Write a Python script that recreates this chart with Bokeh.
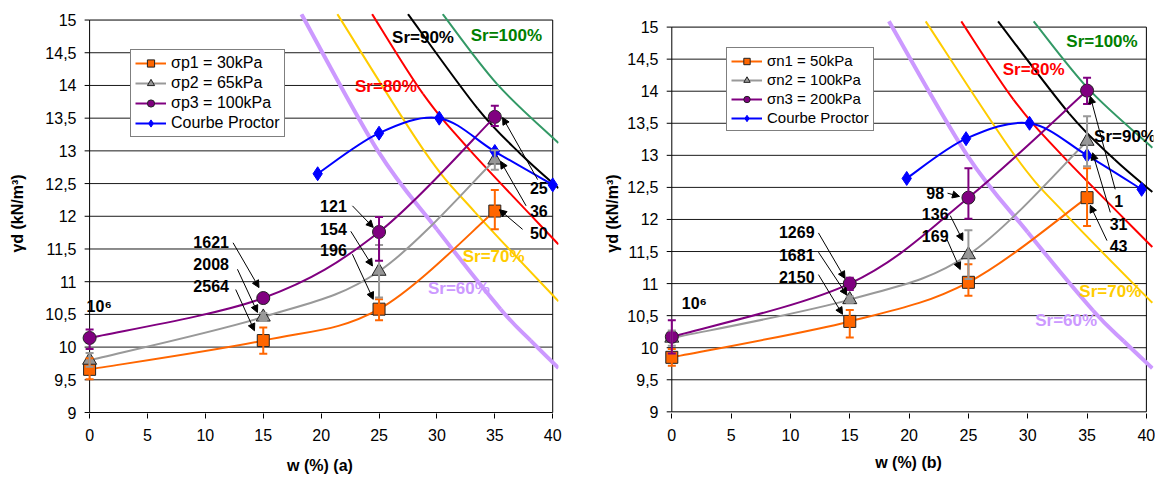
from bokeh.plotting import figure
from bokeh.models import (ColumnDataSource, FixedTicker, Whisker, TeeHead, Arrow, NormalHead,
                          Legend, LegendItem, LabelSet, Range1d, CustomJSTickFormatter)
from bokeh.layouts import row
from bokeh.embed import file_html
from bokeh.resources import INLINE
from bokeh.core.properties import value, field

FONT = "Liberation Sans"

x_ticks = [0, 5, 10, 15, 20, 25, 30, 35, 40]
y_ticks = [9, 9.5, 10, 10.5, 11, 11.5, 12, 12.5, 13, 13.5, 14, 14.5, 15]

# ---------------- chart (a) ----------------
w_pts = [0, 15, 25, 35]
sp1 = [9.66, 10.10, 10.58, 12.08]
sp1_lo = [9.51, 9.90, 10.41, 11.80]
sp1_hi = [9.83, 10.30, 10.73, 12.40]
sp2 = [9.80, 10.46, 11.16, 12.86]
sp2_lo = [9.70, 10.40, 10.76, 12.71]
sp2_hi = [9.91, 10.52, 11.56, 13.01]
sp3 = [10.14, 10.75, 11.76, 13.52]
sp3_lo = [9.97, 10.71, 11.32, 13.38]
sp3_hi = [10.27, 10.79, 11.99, 13.69]
proctor_w_a = [19.7, 25.0, 30.2, 35.0, 40.0]
proctor_a = [12.65, 13.27, 13.50, 12.99, 12.48]

# ---------------- chart (b) ----------------
sn1 = [9.85, 10.41, 11.02, 12.34]
sn1_lo = [9.72, 10.16, 10.81, 11.90]
sn1_hi = [9.98, 10.59, 11.30, 12.80]
sn2 = [10.15, 10.75, 11.45, 13.22]
sn2_lo = [10.03, 10.70, 11.07, 12.83]
sn2_hi = [10.27, 10.80, 11.83, 13.61]
sn3 = [10.17, 11.00, 12.34, 14.01]
sn3_lo = [9.91, 10.90, 12.01, 13.80]
sn3_hi = [10.43, 11.09, 12.80, 14.21]
proctor_w_b = [19.8, 24.8, 30.15, 35.0, 39.6]
proctor_b = [12.64, 13.26, 13.50, 13.00, 12.47]

# ---------------- saturation curves ----------------
sr60_w = [18.3, 24.9, 30.0, 35.5, 38.1, 40.5]
sr60_g = [15.09, 13.00, 11.80, 10.58, 10.10, 9.68]
sr70_w = [21.4, 28.9, 33.3, 40.5]
sr70_g = [15.09, 13.00, 12.06, 10.70]
sr80_w = [24.4, 28.8, 32.9, 40.5]
sr80_g = [15.09, 13.87, 13.00, 11.57]
sr90_w = [27.5, 33.5, 37.3, 40.5]
sr90_g = [15.09, 13.65, 12.94, 12.43]
sr100_w = [30.5, 35.2, 40.5]
sr100_g = [15.09, 14.02, 13.12]

SR_CURVES = [
    (sr60_w, sr60_g, "#CC99FF", 4),
    (sr70_w, sr70_g, "#FFCC00", 2),
    (sr80_w, sr80_g, "#FF0000", 2),
    (sr90_w, sr90_g, "#000000", 2),
    (sr100_w, sr100_g, "#339966", 2),
]


def smooth(xs, ys):
    """Bezier control points for an Excel-like smoothed line through the data."""
    n = len(xs)
    px = [xs[0]] + list(xs) + [xs[-1]]
    py = [ys[0]] + list(ys) + [ys[-1]]
    d = {k: [] for k in ("x0", "y0", "x1", "y1", "cx0", "cy0", "cx1", "cy1")}
    for i in range(n - 1):
        d["x0"].append(px[i + 1]); d["y0"].append(py[i + 1])
        d["x1"].append(px[i + 2]); d["y1"].append(py[i + 2])
        d["cx0"].append(px[i + 1] + (px[i + 2] - px[i]) / 6.0)
        d["cy0"].append(py[i + 1] + (py[i + 2] - py[i]) / 6.0)
        d["cx1"].append(px[i + 2] - (px[i + 3] - px[i + 1]) / 6.0)
        d["cy1"].append(py[i + 2] - (py[i + 3] - py[i + 1]) / 6.0)
    return ColumnDataSource(d)


def curve(p, xs, ys, color, width):
    return p.bezier(x0="x0", y0="y0", x1="x1", y1="y1", cx0="cx0", cy0="cy0",
                    cx1="cx1", cy1="cy1", source=smooth(xs, ys),
                    line_color=color, line_width=width)


def build(xlabel, series, pw, pg, texts, small_text, arrows, geom, leg):
    p = figure(width=geom["w"], height=geom["h"], title=None,
               x_range=Range1d(-0.7, geom["xend"]), y_range=Range1d(geom["ys"], geom["ye"]),
               output_backend="svg", toolbar_location=None,
               min_border_left=geom["l"], min_border_right=geom["r"],
               min_border_top=geom["t"], min_border_bottom=geom["b"])
    p.outline_line_color = None
    p.grid.visible = False
    p.background_fill_color = "white"
    p.border_fill_color = "white"

    xa = p.xaxis[0]
    xa.ticker = FixedTicker(ticks=x_ticks)
    xa.axis_line_color = None
    xa.major_tick_out = 5
    xa.major_tick_in = 0
    xa.minor_tick_out = 0
    xa.minor_tick_in = 0
    xa.major_tick_line_color = "black"
    xa.major_label_standoff = geom["xls"]
    xa.major_label_text_font = FONT
    xa.major_label_text_font_size = "16px"
    xa.major_label_text_color = "black"
    xa.axis_label = xlabel
    xa.axis_label_text_font = FONT
    xa.axis_label_text_font_style = "bold"
    xa.axis_label_text_font_size = "16px"
    xa.axis_label_text_color = "black"
    xa.axis_label_standoff = geom["xts"]

    ya = p.yaxis[0]
    ya.ticker = FixedTicker(ticks=y_ticks)
    ya.formatter = CustomJSTickFormatter(code="return String(tick).replace('.', ',');")
    ya.axis_line_color = None
    ya.major_tick_out = 0
    ya.major_tick_in = 0
    ya.minor_tick_out = 0
    ya.minor_tick_in = 0
    ya.major_tick_line_color = None
    ya.minor_tick_line_color = None
    ya.major_label_standoff = 5
    ya.major_label_text_font = FONT
    ya.major_label_text_font_size = "16px"
    ya.major_label_text_color = "black"
    ya.axis_label = "γd (kN/m³)"
    ya.axis_label_text_font = FONT
    ya.axis_label_text_font_style = "bold"
    ya.axis_label_text_font_size = "16px"
    ya.axis_label_text_color = "black"
    ya.axis_label_standoff = geom["yts"]

    # grid lines, plot-area box and y ticks
    x0, x1 = x_ticks[0], x_ticks[-1]
    gy = y_ticks[1:-1]
    p.segment(x0=[x0] * len(gy), y0=gy, x1=[x1] * len(gy), y1=gy,
              line_color="#1a1a1a", line_width=1)
    y0, y1 = y_ticks[0], y_ticks[-1]
    p.segment(x0=[x0, x0, x0, x1], y0=[y0, y1, y0, y0], x1=[x1, x1, x0, x1], y1=[y0, y1, y1, y1],
              line_color="black", line_width=1)
    p.segment(x0=[x0 - 0.43] * len(y_ticks), y0=y_ticks, x1=[x0] * len(y_ticks), y1=y_ticks,
              line_color="black", line_width=1)

    for xs, ys, c, lw in SR_CURVES:
        curve(p, xs, ys, c, lw)

    items = []
    for vals, lo, hi, color, marker, fill, size, lab in series:
        rl = curve(p, w_pts, vals, color, 2)
        src = ColumnDataSource(dict(x=w_pts, lo=lo, hi=hi))
        wh = Whisker(source=src, base="x", lower="lo", upper="hi", dimension="height",
                     line_color=color, line_width=2, level="glyph",
                     upper_head=TeeHead(size=8, line_color=color, line_width=2),
                     lower_head=TeeHead(size=8, line_color=color, line_width=2))
        p.add_layout(wh)
        rm = p.scatter(w_pts, vals, marker=marker, size=size, fill_color=fill,
                       line_color="#222222", line_width=1)
        items.append(LegendItem(label=lab, renderers=[rl, rm]))

    rpl = curve(p, pw, pg, "#0000FF", 2)
    rpm = p.scatter(pw, pg, marker="diamond", size=14, fill_color="#0000FF", line_color="#0000FF")
    items.append(LegendItem(label="Courbe Proctor", renderers=[rpl, rpm]))

    legend = Legend(items=items, location=leg["loc"], padding=4, spacing=2, margin=0,
                    glyph_width=31, glyph_height=leg["gh"], label_height=leg["gh"],
                    label_standoff=5, label_text_font=FONT,
                    label_text_font_size=leg["fs"], label_text_color="black",
                    border_line_color="black", border_line_width=1,
                    background_fill_color="white", background_fill_alpha=1.0)
    p.add_layout(legend)

    asrc = ColumnDataSource(dict(xs=[a[0] for a in arrows], ys=[a[1] for a in arrows],
                                 xe=[a[2] for a in arrows], ye=[a[3] for a in arrows]))
    p.add_layout(Arrow(source=asrc, x_start="xs", y_start="ys", x_end="xe", y_end="ye",
                       line_color="black", line_width=1,
                       end=NormalHead(size=7, fill_color="black", line_color="black", line_width=1)))

    tsrc = ColumnDataSource(dict(x=[t[0] for t in texts], y=[t[1] for t in texts],
                                 t=[t[2] for t in texts], c=[t[3] for t in texts],
                                 s=[t[4] for t in texts]))
    p.add_layout(LabelSet(source=tsrc, x="x", y="y", text="t", text_color=field("c"),
                          text_font=value(FONT), text_font_style=value("bold"),
                          text_font_size=field("s"), text_align=value("center"),
                          text_baseline=value("middle")))
    ssrc = ColumnDataSource(dict(x=[small_text[0]], y=[small_text[1]], t=["10⁶"]))
    p.add_layout(LabelSet(source=ssrc, x="x", y="y", text="t", text_color=value("black"),
                          text_font=value(FONT), text_font_style=value("bold"),
                          text_font_size=value("16px"), text_align=value("left"),
                          text_baseline=value("middle")))
    return p


series_a = [
    (sp1, sp1_lo, sp1_hi, "#FF6600", "square", "#FF6600", 12, "σp1 = 30kPa"),
    (sp2, sp2_lo, sp2_hi, "#999999", "triangle", "#969696", 14, "σp2 = 65kPa"),
    (sp3, sp3_lo, sp3_hi, "#800080", "circle", "#800080", 13, "σp3 = 100kPa"),
]
series_b = [
    (sn1, sn1_lo, sn1_hi, "#FF6600", "square", "#FF6600", 12, "σn1 = 50kPa"),
    (sn2, sn2_lo, sn2_hi, "#999999", "triangle", "#969696", 14, "σn2 = 100kPa"),
    (sn3, sn3_lo, sn3_hi, "#800080", "circle", "#800080", 13, "σn3 = 200kPa"),
]

texts_a = [
    (28.8, 14.73, "Sr=90%", "#000000", "17px"),
    (36.0, 14.76, "Sr=100%", "#008000", "17px"),
    (25.6, 13.98, "Sr=80%", "#FF0000", "17px"),
    (34.9, 11.39, "Sr=70%", "#FFCC00", "17px"),
    (31.9, 10.89, "Sr=60%", "#CC99FF", "17px"),
    (10.5, 11.61, "1621", "#000000", "16px"),
    (10.5, 11.27, "2008", "#000000", "16px"),
    (10.5, 10.93, "2564", "#000000", "16px"),
    (21.06, 12.16, "121", "#000000", "16px"),
    (21.06, 11.80, "154", "#000000", "16px"),
    (21.06, 11.48, "196", "#000000", "16px"),
    (38.8, 12.43, "25", "#000000", "16px"),
    (38.8, 12.08, "36", "#000000", "16px"),
    (38.8, 11.75, "50", "#000000", "16px"),
]
arrows_a = [
    (12.39, 11.595, 14.63, 10.91),
    (12.77, 11.19, 14.50, 10.53),
    (12.62, 10.88, 14.24, 10.25),
    (22.70, 12.16, 24.50, 11.83),
    (22.56, 11.77, 24.43, 11.24),
    (22.70, 11.42, 24.50, 10.73),
    (38.70, 12.56, 35.67, 13.51),
    (37.70, 12.16, 35.50, 12.84),
    (37.40, 11.80, 35.40, 12.10),
]
texts_b = [
    (36.26, 14.77, "Sr=100%", "#008000", "17px"),
    (30.5, 14.34, "Sr=80%", "#FF0000", "17px"),
    (38.2, 13.29, "Sr=90%", "#000000", "17px"),
    (36.96, 10.88, "Sr=70%", "#FFCC00", "17px"),
    (33.24, 10.42, "Sr=60%", "#CC99FF", "17px"),
    (10.53, 11.80, "1269", "#000000", "16px"),
    (10.53, 11.45, "1681", "#000000", "16px"),
    (10.53, 11.11, "2150", "#000000", "16px"),
    (22.2, 12.42, "98", "#000000", "16px"),
    (22.2, 12.09, "136", "#000000", "16px"),
    (22.2, 11.74, "169", "#000000", "16px"),
    (37.66, 12.29, "1", "#000000", "16px"),
    (37.66, 11.93, "31", "#000000", "16px"),
    (37.66, 11.59, "43", "#000000", "16px"),
]
arrows_b = [
    (12.36, 11.79, 14.60, 11.08),
    (12.36, 11.49, 14.76, 10.82),
    (12.36, 11.14, 14.39, 10.52),
    (23.24, 12.41, 24.25, 12.36),
    (23.47, 12.06, 24.53, 11.67),
    (23.19, 11.69, 24.31, 11.22),
    (37.37, 12.47, 35.27, 13.92),
    (36.96, 12.11, 35.46, 13.04),
    (36.68, 11.67, 35.27, 12.22),
]

# left: frame 477 x 400 ; right: frame 490 x 403
geom_a = dict(w=81 + 477 + 10, h=479, l=81, r=10, t=13, b=66, xend=40.5, ys=8.985, ye=15.1,
              xls=10, xts=13, yts=16)
geom_b = dict(w=95 + 490 + 2, h=479, l=95, r=2, t=13, b=63, xend=40.6, ys=8.974, ye=15.212,
              xls=10, xts=10, yts=3)

pa = build("w (%) (a)", series_a, proctor_w_a, proctor_a, texts_a, (-0.26, 10.62), arrows_a,
           geom_a, dict(loc=(49, 276), gh=18, fs="16px"))
pb = build("w (%) (b)", series_b, proctor_w_b, proctor_b, texts_b, (0.84, 10.69), arrows_b,
           geom_b, dict(loc=(63, 282), gh=16, fs="15px"))

layout = row(pa, pb)
open("out.html", "w").write(file_html(layout, INLINE))
